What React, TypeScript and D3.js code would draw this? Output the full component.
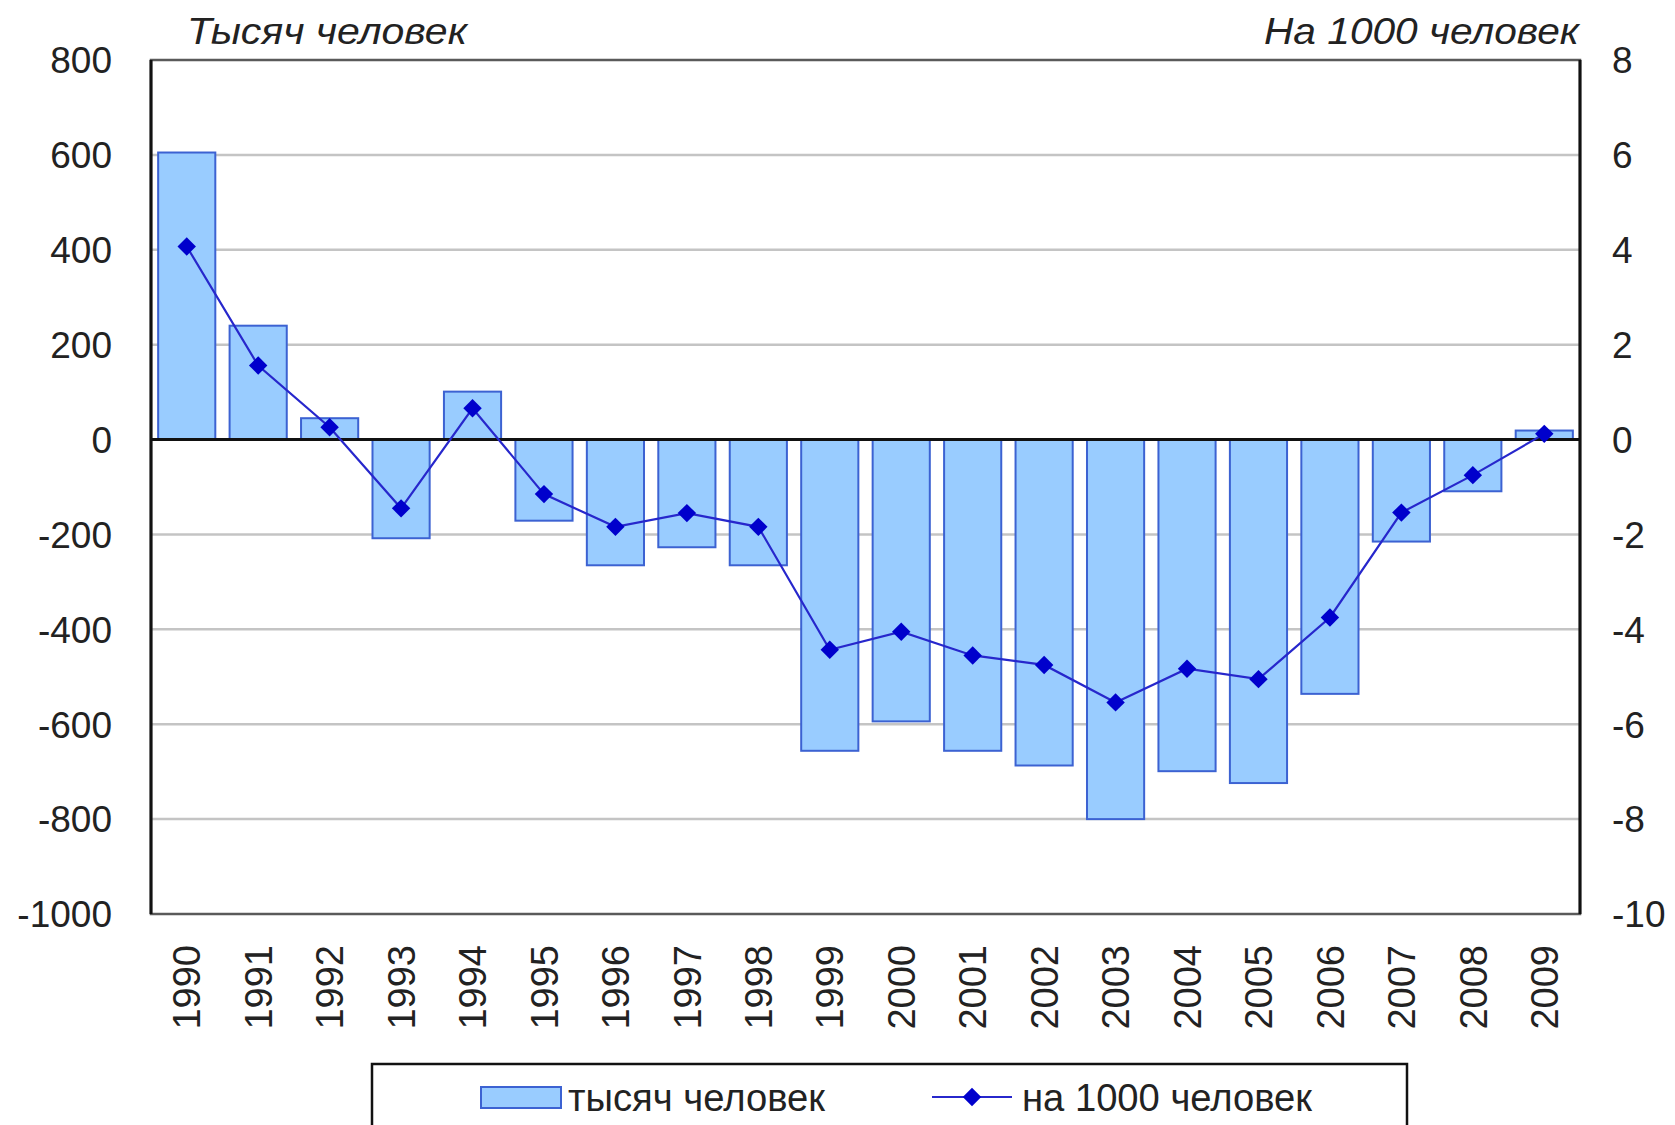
import React from 'react';
import * as d3 from 'd3';

// years on the category axis
const years = [
  '1990', '1991', '1992', '1993', '1994', '1995', '1996', '1997', '1998', '1999',
  '2000', '2001', '2002', '2003', '2004', '2005', '2006', '2007', '2008', '2009'
];
// bars: thousand people
const thousands = [
  605, 240, 45, -208, 101, -171, -265, -227, -265, -656,
  -594, -656, -687, -800, -699, -724, -536, -215, -109, 19
];
// line: per 1000 people
const perThousand = [
  4.07, 1.56, 0.26, -1.45, 0.66, -1.15, -1.84, -1.55, -1.84, -4.43,
  -4.05, -4.55, -4.75, -5.54, -4.83, -5.05, -3.75, -1.54, -0.75, 0.12
];
const leftTicks = [800, 600, 400, 200, 0, -200, -400, -600, -800, -1000];
const rightTicks = [8, 6, 4, 2, 0, -2, -4, -6, -8, -10];

const W = 1675;
const H = 1125;
const plot = { left: 151, right: 1580, top: 60, bottom: 914 };
const font = '"Liberation Sans", Arial, sans-serif';

export default function App() {
  const x = d3.scaleBand()
    .domain(years)
    .range([plot.left, plot.right])
    .paddingInner(0.2)
    .paddingOuter(0.1);
  const yL = d3.scaleLinear().domain([-1000, 800]).range([plot.bottom, plot.top]);
  const yR = d3.scaleLinear().domain([-10, 8]).range([plot.bottom, plot.top]);

  const line = d3.line<number>()
    .x((_, i) => x(years[i])! + x.bandwidth() / 2)
    .y((d) => yR(d));
  const diamond = d3.symbol(d3.symbolSquare, 170)();

  return (
    <svg width={W} height={H} style={{ position: 'absolute', left: 0, top: 0, background: '#fff' }}
      fontFamily={font}>
      <rect x={0} y={0} width={W} height={H} fill="#fff" />

      {/* gridlines */}
      {leftTicks.filter((t) => t !== 0 && t !== 800 && t !== -1000).map((t) => (
        <line key={t} x1={plot.left} x2={plot.right} y1={yL(t)} y2={yL(t)}
          stroke="#c4c4c4" strokeWidth={2.5} />
      ))}

      {/* plot area border */}
      <rect x={plot.left} y={plot.top} width={plot.right - plot.left} height={plot.bottom - plot.top}
        fill="none" stroke="#5a5a5a" strokeWidth={2.5} />

      {/* bars */}
      {thousands.map((v, i) => (
        <rect key={years[i]}
          x={x(years[i])}
          y={yL(Math.max(0, v))}
          width={x.bandwidth()}
          height={Math.abs(yL(v) - yL(0))}
          fill="#99ccff" stroke="#3c62d2" strokeWidth={2} />
      ))}

      {/* axes lines */}
      <line x1={plot.left} x2={plot.right} y1={yL(0)} y2={yL(0)} stroke="#111" strokeWidth={3} />
      <line x1={plot.left} x2={plot.left} y1={plot.top} y2={plot.bottom} stroke="#111" strokeWidth={3} />
      <line x1={plot.right} x2={plot.right} y1={plot.top} y2={plot.bottom} stroke="#111" strokeWidth={3} />

      {/* line series */}
      <path d={line(perThousand) ?? ''} fill="none" stroke="#2727cc" strokeWidth={2.2} />
      {perThousand.map((v, i) => (
        <path key={years[i]} d={diamond ?? ''}
          transform={`translate(${x(years[i])! + x.bandwidth() / 2},${yR(v)}) rotate(45)`}
          fill="#0000cc" />
      ))}

      {/* left ticks */}
      {leftTicks.map((t) => (
        <text key={t} x={112} y={yL(t)} dy="0.36em" textAnchor="end" fontSize={37} fill="#222">
          {t}
        </text>
      ))}
      {/* right ticks */}
      {rightTicks.map((t) => (
        <text key={t} x={1612} y={yR(t)} dy="0.36em" textAnchor="start" fontSize={37} fill="#222">
          {t}
        </text>
      ))}

      {/* axis titles */}
      <text x={187} y={44} fontSize={36} fontStyle="italic" fill="#222"
        textLength={280} lengthAdjust="spacingAndGlyphs">Тысяч человек</text>
      <text x={1264} y={44} fontSize={36} fontStyle="italic" fill="#222"
        textLength={315} lengthAdjust="spacingAndGlyphs">На 1000 человек</text>

      {/* category labels */}
      {years.map((yr) => (
        <text key={yr} fontSize={38} fill="#222" textAnchor="end" dy="0.36em"
          transform={`translate(${x(yr)! + x.bandwidth() / 2},945) rotate(-90)`}>
          {yr}
        </text>
      ))}

      {/* legend */}
      <rect x={372} y={1064} width={1035} height={80} fill="#fff" stroke="#111" strokeWidth={2.5} />
      <rect x={481} y={1087} width={80} height={21} fill="#99ccff" stroke="#3c62d2" strokeWidth={2} />
      <text x={568} y={1111} fontSize={38} fill="#222"
        textLength={257} lengthAdjust="spacingAndGlyphs">тысяч человек</text>
      <line x1={932} x2={1012} y1={1097} y2={1097} stroke="#2727cc" strokeWidth={2.2} />
      <path d={diamond ?? ''} transform="translate(972,1097) rotate(45)" fill="#0000cc" />
      <text x={1022} y={1111} fontSize={38} fill="#222"
        textLength={290} lengthAdjust="spacingAndGlyphs">на 1000 человек</text>
    </svg>
  );
}
